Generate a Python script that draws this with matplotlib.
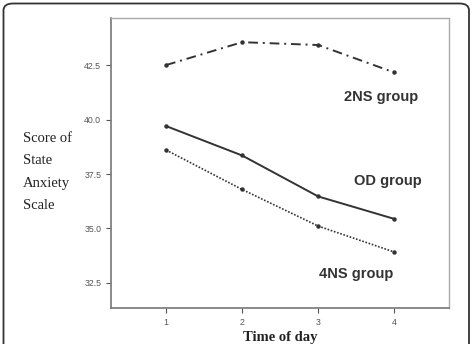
import matplotlib
matplotlib.use("Agg")
import matplotlib.pyplot as plt
from matplotlib.patches import FancyBboxPatch

days = [1, 2, 3, 4]
ns2 = [42.50, 43.55, 43.42, 42.16]
od = [39.70, 38.35, 36.47, 35.44]
ns4 = [38.60, 36.79, 35.11, 33.92]
yticks = [32.5, 35.0, 37.5, 40.0, 42.5]

W, H = 473, 344
fig = plt.figure(figsize=(W / 100, H / 100), dpi=100)
fig.patch.set_facecolor("white")

# outer rounded frame
frame = FancyBboxPatch((3.5 / W, -20 / H), (W - 7.5) / W, (H + 16.5) / H,
                       boxstyle="round,pad=0,rounding_size=0.02",
                       transform=fig.transFigure, fill=False,
                       edgecolor="#333333", linewidth=1.3)
fig.patches.append(frame)

ax = fig.add_axes([111 / W, 1 - 308 / H, (449 - 111) / W, (308 - 18) / H])
ax.set_xlim(0.276, 4.72)
ax.set_ylim(31.35, 44.66)

c = "#333333"
ax.plot(days, ns2, color=c, lw=1.4, linestyle=(0, (5, 2.5, 1, 2.5)), marker="o", ms=2.2)
ax.plot(days, od, color=c, lw=1.4, linestyle="-", marker="o", ms=2.2)
ax.plot(days, ns4, color=c, lw=1.2, linestyle=(0, (1, 1)), marker="o", ms=2.2)

ax.set_xticks(days)
ax.set_xticklabels([str(d) for d in days])
ax.set_yticks(yticks)
ax.set_yticklabels([f"{v:.1f}" for v in yticks])
ax.tick_params(labelsize=6.3, colors="#555555", length=3.5, width=0.8)
for lab in ax.get_xticklabels() + ax.get_yticklabels():
    lab.set_family("Liberation Sans")

for s in ["left", "bottom"]:
    ax.spines[s].set_color("#777777")
    ax.spines[s].set_linewidth(1.2)
for s in ["top", "right"]:
    ax.spines[s].set_color("#aaaaaa")
    ax.spines[s].set_linewidth(1.0)

txtkw = dict(fontsize=10.5, fontweight="bold", color="#333333",
             family="Liberation Sans", ha="center", va="center")
ax.text(3.0 + (381 - 318) / 76, 42.5 - (97 - 65) / 21.8, "2NS group", **txtkw)
ax.text(3.0 + (388 - 318) / 76, 37.5 - (181 - 174) / 21.8, "OD group", **txtkw)
ax.text(3.0 + (356 - 318) / 76, 35.0 - (274 - 228.5) / 21.8, "4NS group", **txtkw)

fig.text(23 / W, 1 - 172 / H, "Score of\nState\nAnxiety\nScale", family="Liberation Serif",
         fontsize=10.5, color="#222222", ha="left", va="center", linespacing=1.95)
fig.text(280 / W, 1 - 338 / H, "Time of day", family="Liberation Serif",
         fontsize=10.5, fontweight="bold", color="#222222", ha="center", va="center")

fig.savefig("out.png", dpi=100, facecolor="white")
